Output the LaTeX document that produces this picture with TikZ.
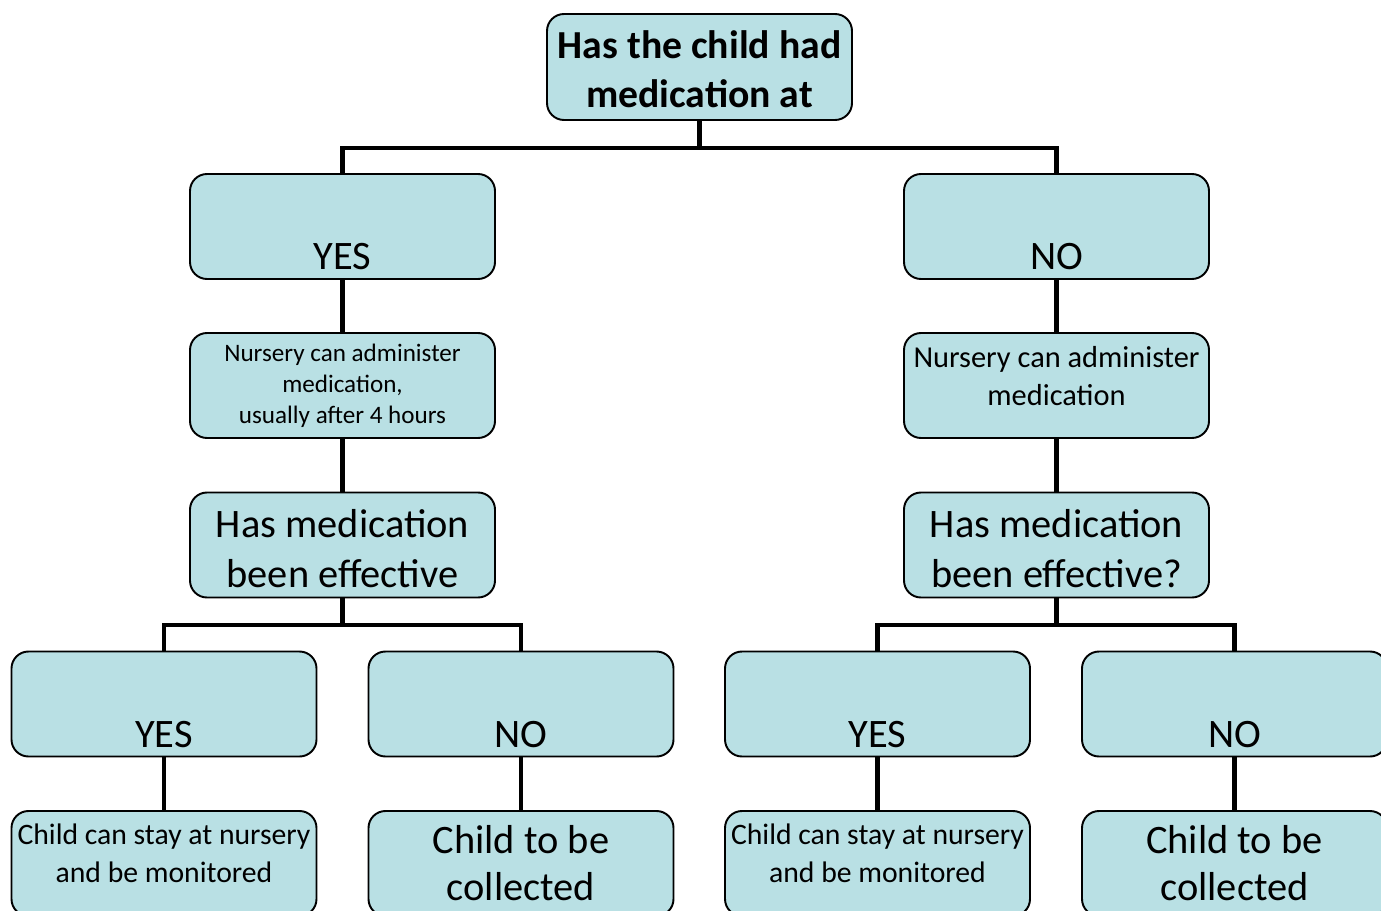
\documentclass[tikz,border=0pt]{standalone}
\usepackage{fontspec}
\setmainfont{Carlito}
\usetikzlibrary{calc, positioning}
\usepackage{xcolor}
\definecolor{boxfill}{RGB}{185,224,228}

\begin{document}
\begin{tikzpicture}[auto, node distance = 1 cm]
				\tikzstyle{box} = [draw=black, line width=1.1pt, fill=boxfill, rounded corners=0.34cm, minimum width=6.1cm, minimum height=2.1cm, inner sep=0pt, align=center]
				\tikzstyle{answer} = [box, text height=1.92cm, text depth=0.18cm, font=\fontsize{23}{28}\selectfont]
				\tikzstyle{big} = [box, text height=1.9cm, text depth=0.2cm, font=\fontsize{23}{28.4}\selectfont]
				\tikzstyle{small} = [box, text height=1.42cm, text depth=0.68cm, font=\fontsize{16.9}{21.3}\selectfont]
				\tikzstyle{link} = [line width=2.8pt, draw=black]
				
				\useasboundingbox (0,0) rectangle (27.62,-18.22);
				\clip (0,0) rectangle (27.62,-18.22);
				
				\node[box, minimum height=2.12cm, text height=1.88cm, text depth=0.24cm, font=\bfseries\fontsize{22.6}{28.3}\selectfont] at (13.99, -1.34) (ask) {Has the child had\\medication at};
				
				\node[answer] 			at (6.85, -4.53) 	(yes) 	{YES};
				\node[answer] 			at (21.13, -4.53) 	(no) 	{NO};
				\node[box, text height=1.8cm, text depth=0.3cm, font=\fontsize{14.3}{17.6}\selectfont] at (6.85, -7.71) (giveyes) {Nursery can administer\\medication,\\usually after 4 hours};
				\node[small, text height=1.44cm, text depth=0.66cm, font=\fontsize{17.3}{21.5}\selectfont] at (21.13, -7.71) (giveno) {Nursery can administer\\medication};
				\node[big] 				at (6.85, -10.9) 	(effyes) {Has medication\\been effective};
				\node[big] 				at (21.13, -10.9) 	(effno) {Has medication\\been effective?};
				
				\node[answer] 			at (3.28, -14.08) 	(yesyes) {YES};
				\node[answer] 			at (10.42, -14.08) 	(yesno) {NO};
				\node[answer] 			at (17.55, -14.08) 	(noyes) {YES};
				\node[answer] 			at (24.69, -14.08) 	(nono) {NO};
				
				\node[small] 			at (3.28, -17.27) 	(stayyes) {Child can stay at nursery\\and be monitored};
				\node[big, text height=1.78cm, text depth=0.32cm, font=\fontsize{23}{26.5}\selectfont] at (10.42, -17.27) (goyes) {Child to be\\collected};
				\node[small] 			at (17.55, -17.27) 	(stayno) {Child can stay at nursery\\and be monitored};
				\node[big, text height=1.78cm, text depth=0.32cm, font=\fontsize{23}{26.5}\selectfont] at (24.69, -17.27) (gono) {Child to be\\collected};
				
				\draw[link] (ask.south) -- ++(0,-0.54) -| (yes.north);
				\draw[link] (ask.south) -- ++(0,-0.54) -| (no.north);
				\draw[link] (yes) -- (giveyes);
				\draw[link] (no) -- (giveno);
				\draw[link] (giveyes) -- (effyes);
				\draw[link] (giveno) -- (effno);
				\draw[link] (effyes.south) -- ++(0,-0.53) -| (yesyes.north);
				\draw[link] (effyes.south) -- ++(0,-0.53) -| (yesno.north);
				\draw[link] (effno.south) -- ++(0,-0.53) -| (noyes.north);
				\draw[link] (effno.south) -- ++(0,-0.53) -| (nono.north);
				\draw[link] (yesyes) -- (stayyes);
				\draw[link] (yesno) -- (goyes);
				\draw[link] (noyes) -- (stayno);
				\draw[link] (nono) -- (gono);
			\end{tikzpicture}
\end{document}
